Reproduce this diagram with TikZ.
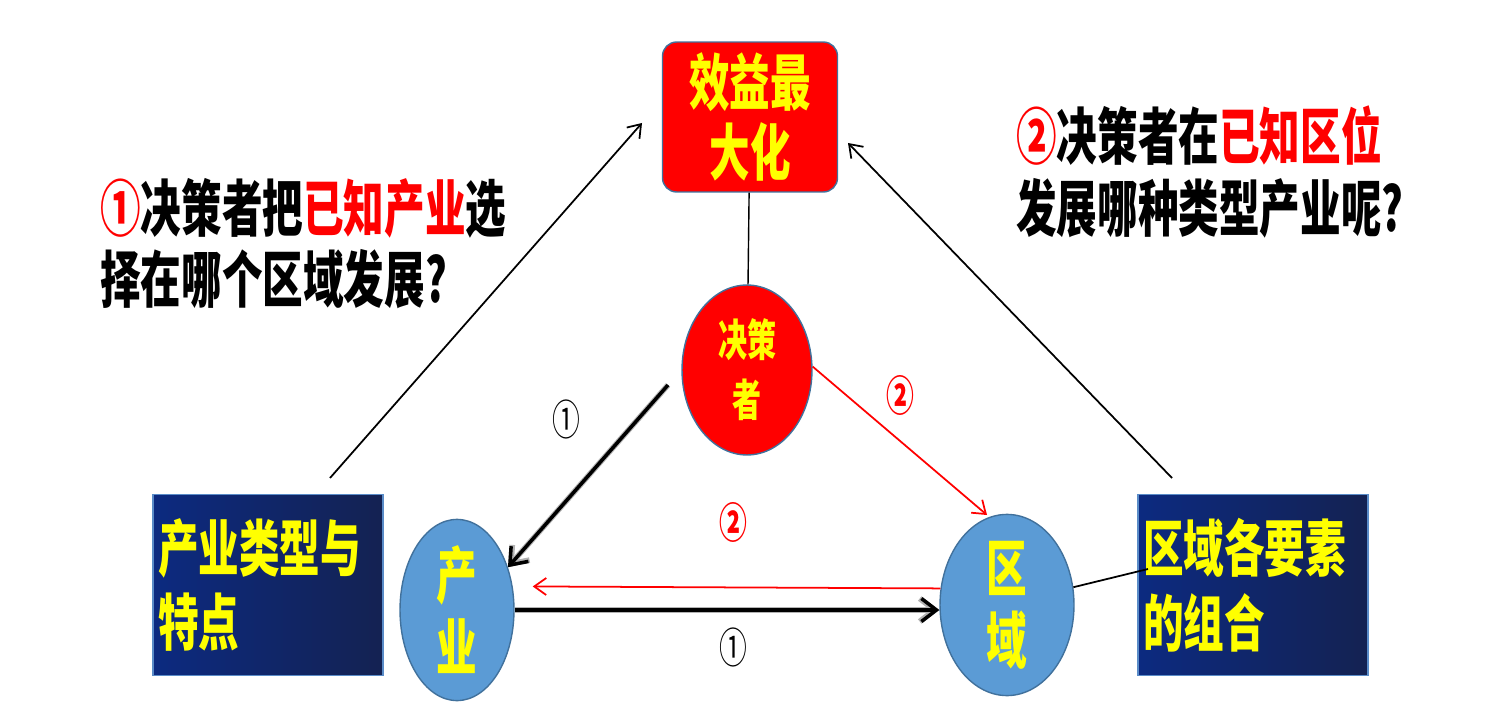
\documentclass[tikz,border=0pt]{standalone}
\usepackage{fontspec}
\usetikzlibrary{arrows.meta,shapes.geometric}
\newfontfamily\cjk[FakeStretch=0.66,BoldFont={Noto Sans CJK SC Black}]{Noto Sans CJK SC}
\definecolor{boxblue}{RGB}{12,42,128}
\definecolor{boxnavy}{RGB}{20,34,82}
\definecolor{boxrim}{RGB}{90,140,200}
\definecolor{ballblue}{RGB}{91,155,213}
\definecolor{rimblue}{RGB}{65,113,156}
\definecolor{txtyellow}{RGB}{255,255,0}
\tikzset{
  goalbox/.style={rectangle,rounded corners=8pt,fill=red,draw=rimblue,line width=0.8pt,
    minimum width=3.5cm,minimum height=3cm,inner sep=0pt,align=center,text=txtyellow,
    font=\cjk\bfseries\fontsize{35}{40}\selectfont},
  ball/.style={ellipse,fill=ballblue,draw=rimblue,line width=0.8pt,inner sep=0pt,
    align=center,text=txtyellow,font=\cjk\bfseries\fontsize{35}{41}\selectfont},
  infobox/.style={rectangle,left color=boxblue,right color=boxnavy,draw=boxrim,line width=0.8pt,
    minimum width=4.6cm,minimum height=3.62cm,text width=4.4cm,inner xsep=0.1cm,align=left,
    text=txtyellow,font=\cjk\bfseries\fontsize{35}{42.5}\selectfont},
  qtext/.style={anchor=west,align=left,inner sep=0pt,font=\cjk\bfseries\fontsize{35}{40.5}\selectfont},
  numlabel/.style={inner sep=0pt,font=\cjk\fontsize{24}{24}\selectfont},
  thinarrow/.style={->,line width=1pt},
  redarrow/.style={->,red,line width=1pt},
  thickarrow/.style={-{Straight Barb[length=3mm,width=4.6mm]},line width=2pt,
    preaction={draw=gray!60,line width=3.2pt}}
}
\begin{document}
\begin{tikzpicture}[x=0.02cm,y=-0.02cm,>={Straight Barb[length=2.4mm,width=3.4mm]}]
\useasboundingbox (0,0) rectangle (1500,719);
% nodes
\node[goalbox] (xiaoyi) at (750,117) {效益最\\大化};
\node[ball,fill=red,minimum width=2.6cm,minimum height=3.4cm,
  font=\cjk\bfseries\fontsize{25}{34}\selectfont] (juece) at (747,370) {决策\\者};
\node[ball,minimum width=2.28cm,minimum height=3.12cm] (chanye) at (457,610) {产\\业};
\node[ball,minimum width=2.68cm,minimum height=3.32cm] (quyu) at (1007,605) {区\\域};
\node[infobox] (leixing) at (268,585) {产业类型与\\特点};
\node[infobox] (yaosu) at (1253,585) {区域各要素\\的组合};
\node[qtext] (ask1) at (100,244) {\textcolor{red}{①}决策者把\textcolor{red}{已知产业}选\\择在哪个区域发展?};
\node[qtext] (ask2) at (1016,172) {\textcolor{red}{②}决策者在\textcolor{red}{已知区位}\\发展哪种类型产业呢?};
\node[numlabel] (n1a) at (566,419) {①};
\node[numlabel,text=red,font=\cjk\bfseries\fontsize{24}{24}\selectfont] (n2a) at (900,395) {②};
\node[numlabel,text=red,font=\cjk\bfseries\fontsize{24}{24}\selectfont] (n2b) at (733,522) {②};
\node[numlabel] (n1b) at (733,647) {①};
% free ends
\coordinate (lfoot) at (330,478);
\coordinate (ltip) at (642,123);
\coordinate (rfoot) at (1172,478);
\coordinate (rtip) at (848,143);
\coordinate (jtail) at (668,385);
\coordinate (qtip) at (987,515);
\coordinate (qtie) at (1148,569);
% connectors
\draw[thinarrow] (lfoot) -- (ltip);
\draw[thinarrow] (rfoot) -- (rtip);
\draw[line width=0.8pt] (xiaoyi) -- (juece);
\draw[thickarrow] (jtail) -- (chanye.40);
\draw[redarrow] (juece.3) -- (qtip);
\draw[redarrow,shorten >=0.4cm] (quyu.166) -- (chanye.23);
\draw[thickarrow] (chanye.east) -- (chanye.east -| quyu.west);
\draw[line width=1pt] (quyu.15) -- (qtie);
\end{tikzpicture}
\end{document}
